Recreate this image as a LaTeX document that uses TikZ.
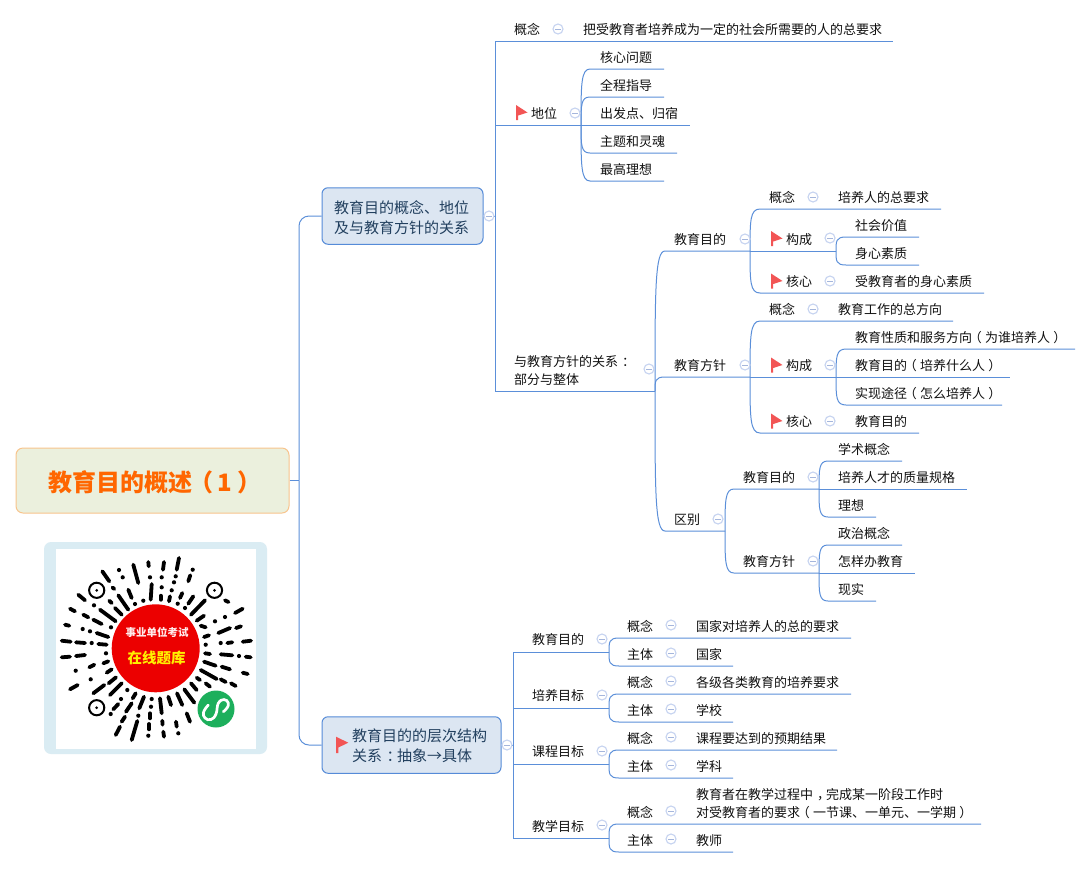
\documentclass[tikz,border=0pt]{standalone}
\usepackage{fontspec}
\setmainfont{Noto Sans CJK SC}
\usetikzlibrary{calc}
\definecolor{linkc}{HTML}{5B8FD9}
\definecolor{boxfill}{HTML}{DCE6F2}
\definecolor{boxline}{HTML}{558BD8}
\definecolor{rootfill}{HTML}{EBF0DD}
\definecolor{rootline}{HTML}{F8C48C}
\definecolor{rootink}{HTML}{FF6600}
\definecolor{branchink}{HTML}{22405F}
\definecolor{iconline}{HTML}{C6D3F0}
\definecolor{iconbar}{HTML}{A5B6DC}
\definecolor{flagc}{HTML}{F25555}
\definecolor{qrframe}{HTML}{DAECF3}
\definecolor{qrred}{HTML}{EC0000}
\definecolor{qrgreen}{HTML}{1DAF5C}
\definecolor{qryellow}{HTML}{FFF000}
\definecolor{textc}{HTML}{111111}
\tikzset{
 x=1pt,y=-1pt,
 conn/.style={draw=linkc,line width=1pt},
 lbl/.style={anchor=west,inner sep=0pt,text=textc,align=left,text height=13pt,text depth=1.5pt,font=\fontsize{13}{18}\selectfont},
 lbltwo/.style={anchor=west,inner sep=0pt,text=textc,align=left,font=\fontsize{13}{18}\selectfont},
 branchbox/.style={draw=boxline,fill=boxfill,line width=1pt,rounded corners=6pt,inner sep=0pt},
 branchtext/.style={anchor=west,inner sep=0pt,text=branchink,align=left,font=\fontsize{15}{20}\selectfont},
 rootbox/.style={draw=rootline,fill=rootfill,line width=1pt,rounded corners=7pt,inner sep=0pt},
 icon/.style={circle,draw=iconline,fill=white,line width=1.1pt,inner sep=0pt,minimum size=10pt,
   path picture={\draw[iconbar,line width=1pt]([xshift=-2.8pt]path picture bounding box.center)--([xshift=2.8pt]path picture bounding box.center);}},
 qrdash/.style={line width=3.8pt,line cap=round,black},
}
\newcommand{\curveline}[5]{% name parent xstart xend y
 \coordinate (#1-s) at (#3,#5); \coordinate (#1-e) at (#4,#5);
 \draw[conn] (#2) .. controls ($(#2)!0.72!(#2|-#1-s)$) and (#2|-#1-s) .. (#1-s) -- (#1-e);}
\newcommand{\flatline}[4]{% name parent xend y
 \coordinate (#1-e) at (#3,#4);
 \draw[conn] (#2) -- (#1-e);}
\newcommand{\sqline}[4]{% name parent xend y
 \coordinate (#1-e) at (#3,#4);
 \draw[conn] (#2) |- (#1-e);}
\newcommand{\lab}[4]{\node[lbl] (#1) at (#2,#3) {#4};}
\newcommand{\ico}[3]{\node[icon] (#1) at (#2,#3) {};}
\newcommand{\flagmark}[2]{\fill[flagc] (#1,#2-7.5)--(#1+11.5,#2+0)--(#1+2.2,#2+3)--(#1+2.2,#2+7.5)--(#1,#2+7.5)--cycle;}
\newcommand{\lp}{\kern-.25em（\kern.25em}
\newcommand{\rp}{\kern.25em）\kern-.25em}
\newcommand{\cp}[1]{\kern.3em#1\kern-.3em}
\begin{document}
\begin{tikzpicture}
\useasboundingbox (0,0) rectangle (1091,868);
\fill[white] (0,0) rectangle (1091,868);

% root and branches
\node[rootbox,minimum width=273pt,minimum height=65pt] (root) at (152.5,480.5) {};
\node[anchor=west,inner sep=0pt,text=rootink,font=\fontsize{24}{28}\selectfont\bfseries] (roott) at (48,482) {教育目的概述\kern-3pt（\kern4pt 1\kern6pt）};
\node[branchbox,minimum width=161pt,minimum height=56.5pt] (b1) at (402.5,216) {};
\node[branchtext] (b1t) at (334,218) {教育目的概念、地位\\及与教育方针的关系};
\node[branchbox,minimum width=179pt,minimum height=56.5pt] (b2) at (411.5,745) {};
\node[branchtext] (b2t) at (352,746) {教育目的的层次结构\\关系\cp{：}抽象→具体};

\coordinate (trunk) at (299,480.5);
\draw[conn] (root.east) -- (trunk);
\draw[conn,rounded corners=10pt] (trunk) |- (b1.west);
\draw[conn,rounded corners=10pt] (trunk) |- (b2.west);

% branch 1
\coordinate (j1) at (495,216);
\draw[conn] (b1.east) -- (j1);
\sqline{gn}{j1}{893}{41}
\sqline{dw}{j1}{581}{125}
\sqline{gx}{j1}{655}{391}
\curveline{dw1}{dw-e}{590}{664}{69}
\curveline{dw2}{dw-e}{590}{664}{97}
\flatline{dw3}{dw-e}{690}{125}
\curveline{dw4}{dw-e}{590}{677}{153}
\curveline{dw5}{dw-e}{590}{664}{181}
\curveline{md}{gx-e}{665}{750}{251}
\curveline{fz}{gx-e}{665}{750}{377}
\curveline{qb}{gx-e}{665}{725}{531}
\curveline{mda}{md-e}{760}{941}{209}
\flatline{mdb}{md-e}{836}{251}
\curveline{mdc}{md-e}{760}{984}{293}
\curveline{mdb1}{mdb-e}{846}{919}{237}
\curveline{mdb2}{mdb-e}{846}{919}{265}
\curveline{fza}{fz-e}{760}{953}{321}
\flatline{fzb}{fz-e}{836}{377}
\curveline{fzc}{fz-e}{760}{919}{433}
\curveline{fzb1}{fzb-e}{846}{1075}{349}
\flatline{fzb2}{fzb-e}{1010}{377}
\curveline{fzb3}{fzb-e}{846}{1002}{405}
\curveline{qa}{qb-e}{734}{819}{489}
\curveline{qc}{qb-e}{734}{819}{573}
\curveline{qa1}{qa-e}{828}{902}{461}
\flatline{qa2}{qa-e}{967}{489}
\curveline{qa3}{qa-e}{828}{876}{517}
\curveline{qc1}{qc-e}{828}{902}{545}
\flatline{qc2}{qc-e}{915}{573}
\curveline{qc3}{qc-e}{828}{876}{601}

% branch 2
\coordinate (j2) at (513,745);
\draw[conn] (b2.east) -- (j2);
\sqline{p1}{j2}{609}{652}
\sqline{p2}{j2}{609}{708}
\sqline{p3}{j2}{609}{764}
\sqline{p4}{j2}{609}{838}
\curveline{p1a}{p1-e}{619}{851}{638}
\curveline{p1b}{p1-e}{619}{733}{666}
\curveline{p2a}{p2-e}{619}{851}{694}
\curveline{p2b}{p2-e}{619}{733}{722}
\curveline{p3a}{p3-e}{619}{837}{750}
\curveline{p3b}{p3-e}{619}{733}{778}
\curveline{p4a}{p4-e}{619}{981}{824}
\curveline{p4b}{p4-e}{619}{733}{852}

% labels, branch 1
\lab{t1}{514}{29}{概念}
\lab{t2}{583}{29}{把受教育者培养成为一定的社会所需要的人的总要求}
\lab{t3}{531}{113}{地位}
\lab{t4}{600}{57}{核心问题}
\lab{t5}{600}{85}{全程指导}
\lab{t6}{600}{113}{出发点、归宿}
\lab{t7}{600}{141}{主题和灵魂}
\lab{t8}{600}{169}{最高理想}
\node[lbltwo] (t9) at (514,371) {与教育方针的关系\cp{：}\\部分与整体};
\lab{t10}{674}{239}{教育目的}
\lab{t11}{674}{365}{教育方针}
\lab{t12}{674}{519}{区别}
\lab{t13}{769}{197}{概念}
\lab{t14}{838}{197}{培养人的总要求}
\lab{t15}{786}{239}{构成}
\lab{t16}{855}{225}{社会价值}
\lab{t17}{855}{253}{身心素质}
\lab{t18}{786}{281}{核心}
\lab{t19}{855}{281}{受教育者的身心素质}
\lab{t20}{769}{309}{概念}
\lab{t21}{838}{309}{教育工作的总方向}
\lab{t22}{786}{365}{构成}
\lab{t23}{855}{337}{教育性质和服务方向\lp 为谁培养人\rp}
\lab{t24}{855}{365}{教育目的\lp 培养什么人\rp}
\lab{t25}{855}{393}{实现途径\lp 怎么培养人\rp}
\lab{t26}{786}{421}{核心}
\lab{t27}{855}{421}{教育目的}
\lab{t28}{743}{477}{教育目的}
\lab{t29}{743}{561}{教育方针}
\lab{t30}{838}{449}{学术概念}
\lab{t31}{838}{477}{培养人才的质量规格}
\lab{t32}{838}{505}{理想}
\lab{t33}{838}{533}{政治概念}
\lab{t34}{838}{561}{怎样办教育}
\lab{t35}{838}{589}{现实}

% labels, branch 2
\lab{u1}{532}{639}{教育目的}
\lab{u2}{532}{695}{培养目标}
\lab{u3}{532}{751}{课程目标}
\lab{u4}{532}{826}{教学目标}
\lab{u5}{627}{626}{概念}
\lab{u6}{696}{626}{国家对培养人的总的要求}
\lab{u7}{627}{654}{主体}
\lab{u8}{696}{654}{国家}
\lab{u9}{627}{682}{概念}
\lab{u10}{696}{682}{各级各类教育的培养要求}
\lab{u11}{627}{710}{主体}
\lab{u12}{696}{710}{学校}
\lab{u13}{627}{738}{概念}
\lab{u14}{696}{738}{课程要达到的预期结果}
\lab{u15}{627}{766}{主体}
\lab{u16}{696}{766}{学科}
\lab{u17}{627}{812}{概念}
\node[lbltwo] (u18) at (696,804) {教育者在教学过程中\cp{，}完成某一阶段工作时\\对受教育者的要求\lp 一节课、一单元、一学期\rp};
\lab{u19}{627}{840}{主体}
\lab{u20}{696}{840}{教师}

% collapse icons
\ico{i1}{489}{216} \ico{i2}{507}{745} \ico{i3}{558}{29} \ico{i4}{575}{113}
\ico{i5}{649}{369} \ico{i6}{745}{239} \ico{i7}{745}{365} \ico{i8}{718}{519}
\ico{i9}{813}{197} \ico{i10}{830}{238} \ico{i11}{830}{281} \ico{i12}{813}{309}
\ico{i13}{830}{365} \ico{i14}{830}{421} \ico{i15}{813}{477} \ico{i16}{813}{561}
\ico{i17}{602}{639} \ico{i18}{602}{695} \ico{i19}{602}{751} \ico{i20}{602}{825}
\ico{i21}{671}{625} \ico{i22}{671}{653} \ico{i23}{671}{681} \ico{i24}{671}{709}
\ico{i25}{671}{737} \ico{i26}{671}{765} \ico{i27}{671}{811} \ico{i28}{671}{839}

% flags
\flagmark{516}{112.5} \flagmark{771}{238.5} \flagmark{771}{281}
\flagmark{771}{365} \flagmark{771}{421}
\fill[flagc] (336,736.7)--(348.3,742.7)--(338.3,747.5)--(338.3,753)--(336,753)--cycle;

% mini program code
\fill[qrframe,rounded corners=7pt] (44,542) rectangle (267,754);
\fill[white] (56,549) rectangle (256,749);
\foreach \xa/\ya/\xb/\yb in {
 148.3/562/148.7/566.3, 133.3/564.7/138.3/583, 151.7/584/150.7/599.7,
 102.3/571.3/109.3/581.3, 112.5/587.5/114.3/589, 128.3/589.7/131.7/598, 109.3/600.7/111.7/603,
 118.3/595.3/128.3/609.7, 115/608/121.7/614.7, 100/609.7/115.7/621.3,
 78.3/594.7/85/600.3, 70/608.7/75/611.3, 83.3/614.7/88.3/617.3, 93.3/619.7/101.7/624,
 65/624.7/69.3/625.7, 96.7/633/108.3/637, 61.7/640.7/70.7/641.7, 76/642.3/85/643,
 98.3/644/106.7/644.7,
 179/558/176.7/569.7, 164/562/163/569.7, 190.3/575.3/188.3/581.3, 160.7/595.7/160.7/599.7,
 170/596.3/169/601.3, 182.3/593/180/598, 193.3/596.3/188.3/603.7, 205/600.3/191/614.7,
 225/600.3/228.5/602, 242.7/608.7/235/613, 204/615.7/196.7/620.7, 205.7/627.3/200.7/625.7,
 230/628/218.3/633, 241/626.3/236/628, 209/635.3/204/637, 232.3/642.3/227.3/643,
 251/640.7/242.7/641.7,
 205/653.3/210/654, 220.7/654.3/232.3/655.3, 245.7/656.7/250.7/657.3, 204/661.7/215.7/665.7,
 221.7/666.7/230/669.3, 242.7/672.7/247.7/674, 200.7/670/216.7/679, 220.7/679.3/225.7/682,
 231/683.3/235.7/686, 196.7/677.7/200/680, 205.7/683.3/210/686.7, 191/683.3/196.7/690,
 184.3/689.3/194.3/702.7, 177/693.3/182.3/705, 168.3/696.7/171/705, 160/698.3/161.7/713.3,
 162.3/720.7/162.6/724.7, 176/721.7/176.7/726.7, 186.7/713.3/190/721.7, 163.3/731.7/164/736.7,
 61.7/657.3/70/656.7, 76/656/85/655, 89.3/667.3/94.3/664.7, 103.3/663.3/108.3/661.3,
 106.7/672.7/111.7/669.3, 108.7/683.3/116/677.3, 70/689.3/77.7/685, 93.3/693.3/104.3/685,
 110/695/121.7/683.3, 132.7/698.3/135.7/693.3, 139.3/708.3/144/696.7, 150/713.3/150/718.3,
 149/724/149/729.3, 131.7/740/137.3/721, 115.7/735/120/726.7, 121.7/721.7/125/716.7,
 126/711.7/131.7/703.3, 113.3/709.3/118.3/704}
 {\draw[qrdash] (\xa,\ya) -- (\xb,\yb);}
\foreach \xa/\ya in {
 150/577.3, 119/570, 122.7/577.3, 135/604, 143.3/600.7, 94/605.3, 111/627.3, 82.7/629, 90/631.3,
 91.7/643, 161.7/577.3, 175.7/576.3, 192.7/569.7, 174/582.3, 161.7/587.3, 171.7/590.3,
 177.7/603.7, 185/608, 215/621.3, 225/617, 220.7/643, 205.7/644.7, 239/656, 178.3/733.3,
 106/653.3, 75.7/670.7, 90.7/679.3, 127.3/690, 151.7/699, 151/706.7, 148.3/735.7,
 138.3/715.7, 121/699, 110.7/714}
 {\fill[black] (\xa,\ya) circle[radius=2.1pt];}
\foreach \xa/\ya in {96.7/590.3, 214.5/590.3, 96.7/707.7}
 {\draw[black,line width=2pt] (\xa,\ya) circle[radius=7.6pt];
  \fill[black] (\xa,\ya) circle[radius=1.5pt];}
\node[circle,fill=qrred,inner sep=0pt,minimum size=88pt] (redc) at (155.7,648.3) {};
\node[inner sep=0pt,text=white!92!red,font=\fontsize{10.5}{12}\selectfont\bfseries] (redt1) at (157,632) {事业单位考试};
\node[inner sep=0pt,text=qryellow,font=\fontsize{14.5}{16}\selectfont\bfseries] (redt2) at (156.5,658) {在线题库};
\node[circle,fill=qrgreen,inner sep=0pt,minimum size=37pt] (greenc) at (216,709) {};
\draw[white,line width=2.7pt,line cap=round] plot[smooth,tension=0.75] coordinates {(208.3,705) (203.6,712) (205,718) (211,719.5) (216,714) (218.3,703.3) (224,699.5) (228.3,703) (227,708) (223.3,711.7)};
\end{tikzpicture}
\end{document}
